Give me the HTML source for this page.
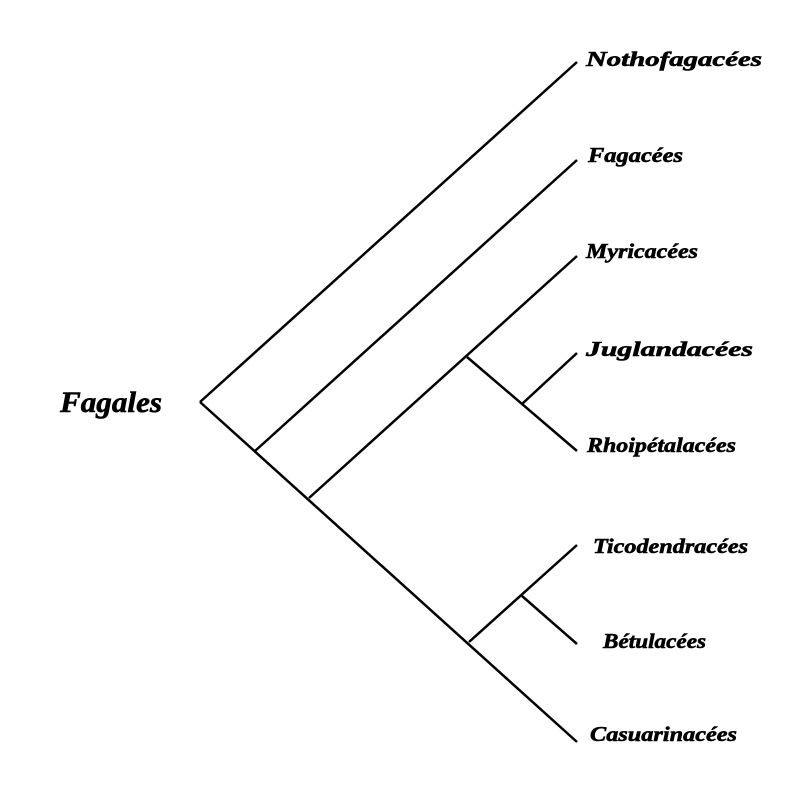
<!DOCTYPE html>
<html><head><meta charset="utf-8"><style>
html,body{margin:0;padding:0;background:#fff;}
svg text{font-family:"Liberation Serif",serif;font-weight:bold;font-style:italic;fill:#000;stroke:#000;stroke-width:0.6;}
</style></head><body>
<svg width="800" height="800" viewBox="0 0 800 800" xmlns="http://www.w3.org/2000/svg">
<g stroke="#000" stroke-width="2.5" fill="none" stroke-linecap="butt">
<line x1="200" y1="402" x2="577" y2="62"/>
<line x1="200" y1="402" x2="577" y2="742"/>
<line x1="255" y1="451" x2="577" y2="160"/>
<line x1="309" y1="498" x2="577" y2="256"/>
<line x1="467" y1="357" x2="577" y2="451"/>
<line x1="522" y1="404" x2="577" y2="353"/>
<line x1="469" y1="642" x2="577" y2="545"/>
<line x1="522" y1="596" x2="577" y2="644"/>
</g>
<text x="60" y="412" font-size="30" textLength="102" lengthAdjust="spacingAndGlyphs">Fagales</text>
<text x="586" y="66" font-size="21" textLength="176" lengthAdjust="spacingAndGlyphs">Nothofagacées</text>
<text x="588" y="162" font-size="21" textLength="95" lengthAdjust="spacingAndGlyphs">Fagacées</text>
<text x="586" y="258" font-size="21" textLength="112" lengthAdjust="spacingAndGlyphs">Myricacées</text>
<text x="586" y="356" font-size="21" textLength="167" lengthAdjust="spacingAndGlyphs">Juglandacées</text>
<text x="587" y="452" font-size="21" textLength="149" lengthAdjust="spacingAndGlyphs">Rhoipétalacées</text>
<text x="593" y="553" font-size="21" textLength="155" lengthAdjust="spacingAndGlyphs">Ticodendracées</text>
<text x="603" y="648" font-size="21" textLength="103" lengthAdjust="spacingAndGlyphs">Bétulacées</text>
<text x="590" y="741" font-size="21" textLength="147" lengthAdjust="spacingAndGlyphs">Casuarinacées</text>
</svg>
</body></html>
